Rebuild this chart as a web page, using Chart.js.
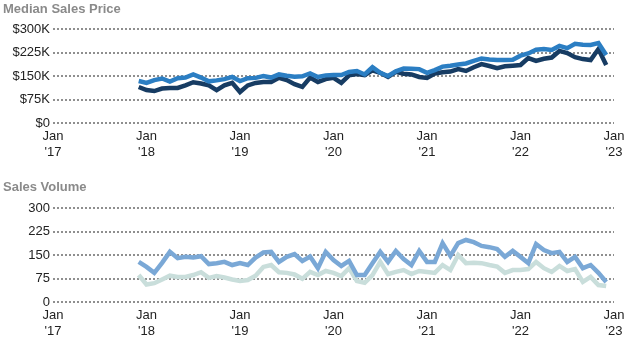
<!DOCTYPE html>
<html>
<head>
<meta charset="utf-8">
<script src="https://cdn.jsdelivr.net/npm/chart.js@4"></script>
<style>
  body { margin: 0; background: #fff; }
  .box { position: absolute; left: 0; width: 633px; height: 175px; }
</style>
</head>
<body>
<div class="box" style="top:0"><canvas id="priceChart"></canvas></div>
<div class="box" style="top:175px"><canvas id="volumeChart"></canvas></div>
<script>
// months counted from Jan 2017 (0); data runs Dec 2017 .. Dec 2022
const firstMonth = 11;
const yearLabels = ["'17", "'18", "'19", "'20", "'21", "'22", "'23"];

// median sales price, $K
const priceLight = [134,
  128, 137, 142, 132, 143, 145, 155, 145, 133, 136, 140, 147,
  134, 143, 144, 150, 145, 155, 151, 148, 149, 158, 147, 152,
  153, 153, 163, 166, 155, 178, 160, 150, 165, 174, 173, 172,
  160, 169, 180, 183, 187, 190, 198, 206, 203, 201, 201, 202,
  215, 222, 234, 236, 233, 246, 239, 253, 250, 249, 255, 217];
const priceDark = [115,
  105, 102, 110, 112, 112, 120, 130, 126, 120, 105, 120, 128,
  99, 120, 128, 131, 131, 144, 137, 124, 115, 145, 131, 140,
  144, 128, 152, 156, 153, 168, 160, 147, 163, 157, 155, 147,
  144, 158, 162, 164, 172, 166, 178, 188, 182, 175, 181, 183,
  185, 207, 198, 205, 209, 230, 223, 210, 204, 201, 236, 185];
const priceTicks = [0, 75, 150, 225, 300];

// sales volume
const volumeBlue = [128,
  112, 93, 125, 160, 140, 144, 142, 146, 121, 124, 128, 118,
  124, 118, 142, 158, 160, 128, 144, 153, 131, 145, 108, 160,
  134, 115, 131, 86, 86, 124, 160, 128, 163, 137, 118, 163,
  128, 128, 188, 147, 188, 198, 191, 179, 175, 169, 144, 163,
  144, 124, 185, 166, 156, 160, 128, 144, 108, 118, 93, 64];
const volumeGray = [86,
  56, 60, 72, 84, 80, 80, 86, 95, 77, 83, 78, 72,
  67, 70, 84, 112, 118, 95, 93, 88, 74, 96, 86, 99,
  93, 83, 108, 67, 61, 86, 128, 89, 96, 102, 89, 99,
  96, 93, 118, 102, 150, 124, 125, 124, 118, 113, 93, 102,
  102, 105, 128, 108, 96, 115, 99, 105, 64, 80, 54, 51];
const volumeTicks = [0, 75, 150, 225, 300];

const font = 'Arial, "Liberation Sans", sans-serif';

function points(values) {
  return values.map((v, i) => ({ x: firstMonth + i, y: v }));
}

function makeChart(id, title, titlePad, series, ticks, fmt, xHeight) {
  new Chart(document.getElementById(id), {
    type: 'line',
    data: {
      datasets: series.map(s => ({
        data: points(s.values),
        borderColor: s.color,
        borderWidth: 4.5,
        pointRadius: 0,
        tension: 0
      }))
    },
    options: {
      responsive: true,
      maintainAspectRatio: false,
      animation: false,
      layout: { padding: { left: 3, right: 19, top: 0, bottom: 0 } },
      plugins: {
        legend: { display: false },
        tooltip: { enabled: false },
        title: {
          display: true,
          text: title,
          align: 'start',
          color: '#8a8a8a',
          font: { family: font, size: 13, weight: 'bold', lineHeight: 1.2 },
          padding: titlePad
        }
      },
      scales: {
        x: {
          type: 'linear',
          min: 0,
          max: (yearLabels.length - 1) * 12,
          grid: { display: false, drawTicks: false },
          border: { display: false },
          afterFit: s => { s.height = xHeight; },
          afterBuildTicks: s => {
            s.ticks = yearLabels.map((y, i) => ({ value: i * 12 }));
          },
          ticks: {
            padding: 6,
            color: '#222',
            maxRotation: 0,
            autoSkip: false,
            font: { family: font, size: 13, lineHeight: 1.2 },
            callback: v => ['Jan', yearLabels[v / 12]]
          }
        },
        y: {
          min: ticks[0],
          max: ticks[ticks.length - 1],
          afterFit: s => { s.width = 50; },
          afterBuildTicks: s => {
            s.ticks = ticks.map(v => ({ value: v }));
          },
          grid: {
            color: '#8f8f8f',
            lineWidth: 2,
            drawTicks: false
          },
          border: { display: false, dash: [2, 2] },
          ticks: {
            padding: 3,
            color: '#222',
            font: { family: font, size: 13 },
            callback: fmt
          }
        }
      }
    }
  });
}

makeChart('priceChart', 'Median Sales Price', { top: 2, bottom: 11.4 },
  [{ values: priceLight, color: '#2b7ec3' }, { values: priceDark, color: '#173c63' }],
  priceTicks, v => v === 0 ? '$0' : '$' + v + 'K', 52);

makeChart('volumeChart', 'Sales Volume', { top: 5, bottom: 12.4 },
  [{ values: volumeBlue, color: '#7aa8d6' }, { values: volumeGray, color: '#c9dedb' }],
  volumeTicks, v => String(v), 48);
</script>
</body>
</html>
